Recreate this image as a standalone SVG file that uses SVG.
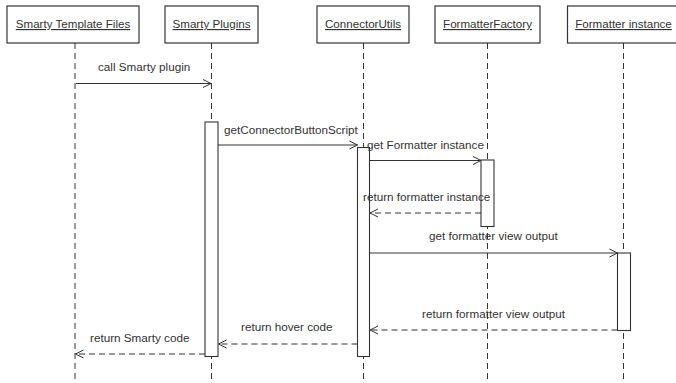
<svg xmlns="http://www.w3.org/2000/svg" width="676" height="383" viewBox="0 0 676 383">
<style>
.box{fill:#fff;stroke:#333;stroke-width:1.2}
.act{fill:#fff;stroke:#333;stroke-width:1.1}
.life{stroke:#333;stroke-width:1;stroke-dasharray:6,4;fill:none}
.msg{stroke:#333;stroke-width:1;fill:none}
.ret{stroke:#333;stroke-width:1;stroke-dasharray:6,4;fill:none}
.head{font-family:"Liberation Sans",Arial,sans-serif;font-size:11.6px;fill:#333;text-decoration:underline;text-anchor:middle}
.lbl{font-family:"Liberation Sans",Arial,sans-serif;font-size:11.7px;fill:#333}
</style>
<defs>
<marker id="arr" markerWidth="10" markerHeight="10" refX="9" refY="5" orient="auto" markerUnits="userSpaceOnUse">
<path d="M1,1 L9,5 L1,9" fill="none" stroke="#333" stroke-width="1"/>
</marker>
</defs>
<rect width="676" height="383" fill="#fff"/>
<g id="lifelines">
<line class="life" x1="75" y1="43" x2="75" y2="383"/>
<line class="life" x1="211.5" y1="43" x2="211.5" y2="383"/>
<line class="life" x1="363.5" y1="43" x2="363.5" y2="383"/>
<line class="life" x1="487.5" y1="43" x2="487.5" y2="383"/>
<line class="life" x1="623.5" y1="43" x2="623.5" y2="383"/>
</g>
<g id="node-smarty-template-files">
<rect class="box" x="7" y="6" width="132" height="37"/>
<text class="head" x="73" y="28">Smarty Template Files</text>
</g>
<g id="node-smarty-plugins">
<rect class="box" x="165" y="6" width="93" height="37"/>
<text class="head" x="211.5" y="28">Smarty Plugins</text>
</g>
<g id="node-connectorutils">
<rect class="box" x="317" y="6" width="92" height="37"/>
<text class="head" x="363" y="28">ConnectorUtils</text>
</g>
<g id="node-formatterfactory">
<rect class="box" x="435" y="6" width="105" height="37"/>
<text class="head" x="487.5" y="28">FormatterFactory</text>
</g>
<g id="node-formatter-instance">
<rect class="box" x="567.5" y="6" width="112" height="37"/>
<text class="head" x="623.5" y="28">Formatter instance</text>
</g>
<g id="activations">
<rect class="act" x="205" y="122" width="13" height="234.5"/>
<rect class="act" x="357.5" y="147.5" width="12" height="209"/>
<rect class="act" x="481" y="160" width="13" height="66.5"/>
<rect class="act" x="617.5" y="253" width="13" height="77.5"/>
</g>
<g id="connectors">
<line class="msg" x1="76" y1="83.5" x2="211" y2="83.5" marker-end="url(#arr)"/>
<line class="msg" x1="218" y1="145" x2="357.5" y2="145" marker-end="url(#arr)"/>
<line class="msg" x1="370" y1="160.5" x2="481" y2="160.5" marker-end="url(#arr)"/>
<line class="ret" x1="481" y1="213" x2="370" y2="213" marker-end="url(#arr)"/>
<line class="msg" x1="370" y1="253" x2="617.5" y2="253" marker-end="url(#arr)"/>
<line class="ret" x1="617.5" y1="330" x2="370" y2="330" marker-end="url(#arr)"/>
<line class="ret" x1="357.5" y1="344" x2="218.5" y2="344" marker-end="url(#arr)"/>
<line class="ret" x1="205" y1="354" x2="75.5" y2="354" marker-end="url(#arr)"/>
</g>
<g id="labels">
<text class="lbl" x="98" y="71">call Smarty plugin</text>
<text class="lbl" x="224" y="134">getConnectorButtonScript</text>
<text class="lbl" x="367" y="148.5">get Formatter instance</text>
<text class="lbl" x="363" y="200.5">return formatter instance</text>
<text class="lbl" x="429" y="240">get formatter view output</text>
<text class="lbl" x="422" y="318">return formatter view output</text>
<text class="lbl" x="241" y="331">return hover code</text>
<text class="lbl" x="90" y="341.5">return Smarty code</text>
</g>
</svg>
